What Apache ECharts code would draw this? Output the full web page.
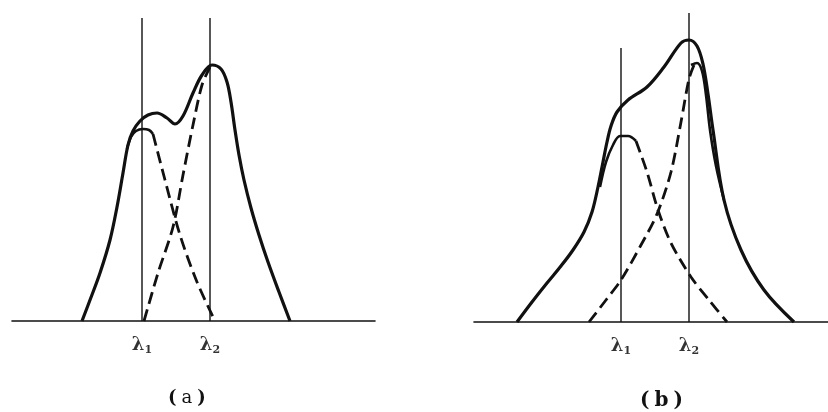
<!DOCTYPE html>
<html><head><meta charset="utf-8">
<script src="https://cdn.jsdelivr.net/npm/echarts@6/dist/echarts.min.js"></script>
<style>html,body{margin:0;padding:0;background:#fff}#c{width:828px;height:412px}</style>
</head><body><div id="c"></div>
<script>
// Panel (a): x = wavelength position, y = intensity (0 at baseline)
const aEnvelope = [[82,0],[90,21],[100,48],[110,81],[117,114],[123,148],[128,176],[133,190],[140,200],[148,206],[157,208],[167,203],[175,197],[183,205],[193,228],[202,246],[212,256],[221,252],[227,239],[231,219],[235,191],[239,166],[244,141],[251,113],[259,86],[268,59],[279,29],[290,0]];
const aComp1Solid = [[127,172],[131,184],[136,190],[143,192],[149,191],[153,187]];
const aComp1Dash = [[153,187],[165,141],[180,86],[197,39],[215,0]];
const aComp2Dash = [[144,0],[158,48],[173,94],[183,146],[193,196],[202,236],[210,254]];
const aLambda = [142, 210];
const aLineTop = [303, 303];

// Panel (b)
const bEnvelope = [[517,0],[532,20],[547,39],[561,56],[573,72],[584,90],[592,110],[598,135],[603,160],[607,180],[611,196],[617,210],[628,222],[647,235],[664,255],[681,279],[689,282],[697,276],[703,258],[708,228],[713,192],[724,122],[741,72],[764,32],[794,0]];
const bComp2Solid = [[691,257],[697,259],[702,251],[706,227],[710,192],[716,156],[724,122]];
const bComp1Solid = [[600,135],[606,160],[613,177],[620,186],[628,186],[636,181]];
const bComp1Dash = [[636,181],[647,150],[658,112],[671,79],[691,45],[709,22],[727,0]];
const bComp2Dash = [[589,0],[606,22],[621,42],[641,77],[657,108],[671,150],[681,200],[689,243],[694,257]];
const bLambda = [621, 689];
const bLineTop = [274, 309];

const lambdaLabels = ['1', '2'];
const captions = ['a', 'b'];

const black = '#111';
function solid(data, xi, w) {
  return {type:'line', xAxisIndex:xi, yAxisIndex:xi, data:data, smooth:0.35, symbol:'none',
    lineStyle:{color:black, width:w}, z:3, silent:true};
}
function dashed(data, xi) {
  return {type:'line', xAxisIndex:xi, yAxisIndex:xi, data:data, smooth:0.3, symbol:'none',
    lineStyle:{color:black, width:2.8, type:[12,6]}, z:3, silent:true};
}
function vline(x, top, xi) {
  return {type:'line', xAxisIndex:xi, yAxisIndex:xi, data:[[x,0],[x,top]], symbol:'none',
    lineStyle:{color:black, width:1.4}, z:2, silent:true};
}
function labels(xs, xi) {
  return {type:'scatter', xAxisIndex:xi, yAxisIndex:xi, symbolSize:1, itemStyle:{color:'transparent'},
    data: xs.map((x,i)=>({value:[x,0], label:{show:true, position:'bottom', distance:14,
      formatter:'{l|λ}{s|'+lambdaLabels[i]+'}',
      rich:{l:{fontFamily:'DejaVu Serif', fontSize:18, fontWeight:'bold', color:'#000'},
            s:{fontFamily:'DejaVu Serif', fontSize:11, fontWeight:'bold', color:'#000', padding:[9,0,0,0]}}}})),
    silent:true};
}
function caption(t, left, top, size, weight) {
  return {text:'{p|(}{t|'+t+'}{p|)}', left:left, top:top,
    textStyle:{rich:{
      p:{fontFamily:'DejaVu Serif', fontSize:size, color:black, padding:[0,5,0,5]},
      t:{fontFamily:'DejaVu Serif', fontSize:size, fontWeight:weight, color:black}}}};
}

const axisX = (min,max,gi)=>({type:'value', gridIndex:gi, min:min, max:max, axisTick:{show:false},
  axisLabel:{show:false}, splitLine:{show:false}, axisLine:{lineStyle:{color:black, width:1.6}}});
const axisY = (max,gi)=>({type:'value', gridIndex:gi, min:0, max:max, show:false, splitLine:{show:false}});

const chart = echarts.init(document.getElementById('c'));
chart.setOption({
  animation:false,
  backgroundColor:'#fff',
  title:[caption(captions[0], 158, 384, 18, 'normal'), caption(captions[1], 630, 386, 20, 'bold')],
  grid:[
    {left:12, top:0, width:363, height:321},
    {left:474, top:0, width:354, height:322}
  ],
  xAxis:[axisX(12,375,0), axisX(474,828,1)],
  yAxis:[axisY(321,0), axisY(322,1)],
  series:[
    solid(aEnvelope,0,3.2), solid(aComp1Solid,0,2.6), dashed(aComp1Dash,0), dashed(aComp2Dash,0),
    vline(aLambda[0],aLineTop[0],0), vline(aLambda[1],aLineTop[1],0), labels(aLambda,0),
    solid(bEnvelope,1,3.2), solid(bComp2Solid,1,2.6), solid(bComp1Solid,1,2.6), dashed(bComp1Dash,1), dashed(bComp2Dash,1),
    vline(bLambda[0],bLineTop[0],1), vline(bLambda[1],bLineTop[1],1), labels(bLambda,1)
  ]
});
</script></body></html>
